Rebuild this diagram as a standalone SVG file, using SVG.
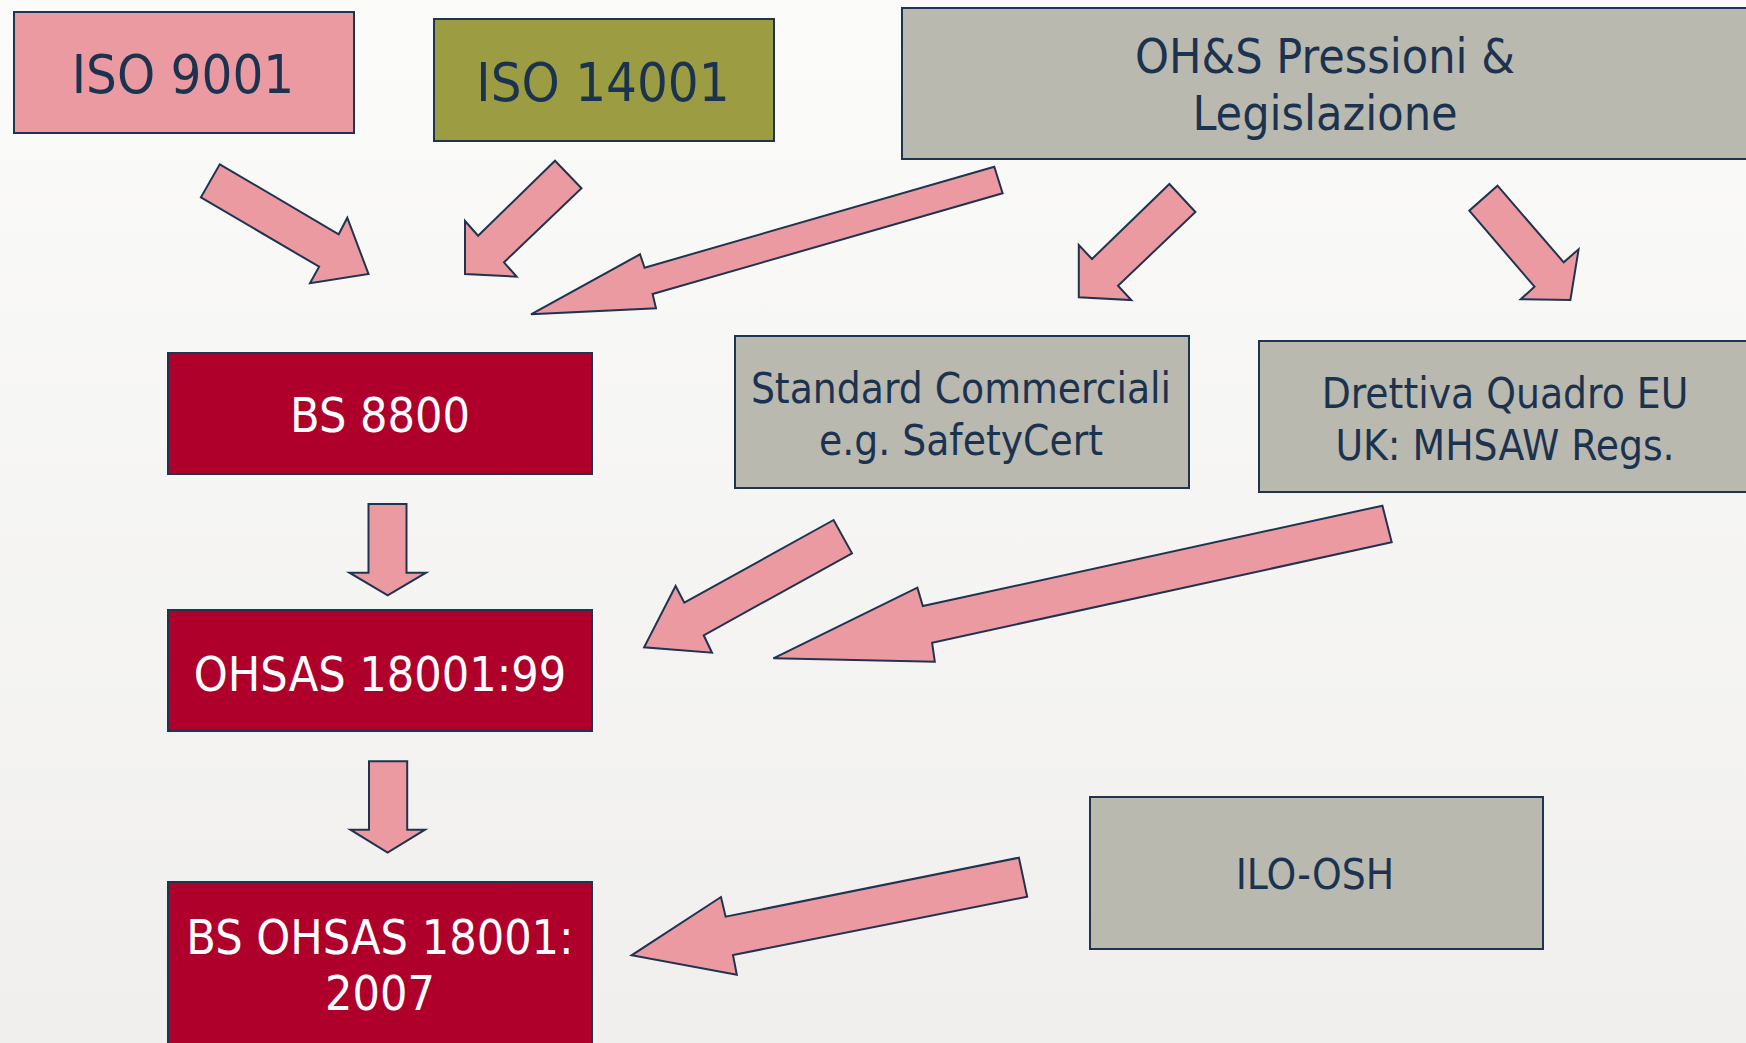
<svg xmlns="http://www.w3.org/2000/svg" width="1746" height="1043" viewBox="0 0 1746 1043">
  <defs>
    <linearGradient id="bg" x1="0" y1="0" x2="0" y2="1">
      <stop offset="0" stop-color="#FBFBFA"/>
      <stop offset="1" stop-color="#F0EFED"/>
    </linearGradient>
    <style>
      .box { stroke: #1F3450; stroke-width: 2; }
      .pink { fill: #EC9AA2; }
      .olive { fill: #9C9D42; }
      .gray { fill: #BAB9B0; }
      .red { fill: #AF002C; }
      .arrow { fill: #EC9AA2; stroke: #1F3450; stroke-width: 2; stroke-linejoin: miter; }
      text { font-family: "DejaVu Sans Condensed", "DejaVu Sans", sans-serif; text-anchor: middle; }
      .dark { fill: #1C3350; }
      .light { fill: #FFFFFF; }
      .t54 { font-size: 54px; }
      .t48 { font-size: 48px; }
      .t42 { font-size: 42px; }
    </style>
  </defs>
  <rect x="0" y="0" width="1746" height="1043" fill="url(#bg)"/>

  <g id="iso9001">
    <rect class="box pink" x="14" y="12" width="340" height="121"/>
    <text class="dark t54" x="183" y="93">ISO 9001</text>
  </g>
  <g id="iso14001">
    <rect class="box olive" x="434" y="19" width="340" height="122"/>
    <text class="dark t54" x="603" y="101">ISO 14001</text>
  </g>
  <g id="ohs">
    <rect class="box gray" x="902" y="8" width="860" height="151"/>
    <text class="dark t48" x="1325" y="73">OH&amp;S Pressioni &amp;</text>
    <text class="dark t48" x="1325" y="130">Legislazione</text>
  </g>
  <g id="bs8800">
    <rect class="box red" x="168" y="353" width="424" height="121"/>
    <text class="light t48" x="380" y="432">BS 8800</text>
  </g>
  <g id="standard">
    <rect class="box gray" x="735" y="336" width="454" height="152"/>
    <text class="dark t42" x="961" y="403">Standard Commerciali</text>
    <text class="dark t42" x="961" y="455">e.g. SafetyCert</text>
  </g>
  <g id="direttiva">
    <rect class="box gray" x="1259" y="341" width="500" height="151"/>
    <text class="dark t42" x="1505" y="408">Drettiva Quadro EU</text>
    <text class="dark t42" x="1505" y="460">UK: MHSAW Regs.</text>
  </g>
  <g id="ohsas99">
    <rect class="box red" x="168" y="610" width="424" height="121"/>
    <text class="light t48" x="380" y="691">OHSAS 18001:99</text>
  </g>
  <g id="ilo">
    <rect class="box gray" x="1090" y="797" width="453" height="152"/>
    <text class="dark t42" x="1315" y="889">ILO-OSH</text>
  </g>
  <g id="bsohsas2007">
    <rect class="box red" x="168" y="882" width="424" height="180"/>
    <text class="light t48" x="380" y="954">BS OHSAS 18001:</text>
    <text class="light t48" x="380" y="1010">2007</text>
  </g>

  <g id="connectors">
    <polygon class="arrow" points="219.8,164.3 338.7,234.3 347.3,217.7 368.5,274 310,283.3 319.1,266.7 200.9,197.3"/>
    <polygon class="arrow" points="555,160.7 581.5,188.3 504,262.3 516.6,276.7 465,274 465,221 478.1,235.7"/>
    <polygon class="arrow" points="994.3,166.7 644.6,267.7 640,254.3 531,314.3 656,308.3 652.6,294 1002.6,193.3"/>
    <polygon class="arrow" points="1169.4,184 1195.4,212 1118,285.7 1131.3,300 1078.8,297.3 1078.8,245 1092,259"/>
    <polygon class="arrow" points="1497.5,185.7 1563.7,262.3 1578.6,249.3 1570.4,300 1520.7,299.3 1534.5,286.7 1469.3,210.7"/>
    <polygon class="arrow" points="368.5,504 406.5,504 406.5,572.7 426,572.7 387.7,595.3 349.4,572.7 368.5,572.7"/>
    <polygon class="arrow" points="369,761.3 407.2,761.3 407.2,829.7 425,829.7 387.6,852.7 350.4,829.7 369,829.7"/>
    <polygon class="arrow" points="833.6,520 684.3,602.7 675.6,586 644.1,647.3 712,652.7 703.7,635.3 852,553.3"/>
    <polygon class="arrow" points="1382.4,505.7 922.8,606 917.4,587.7 773.4,658.3 934.8,661.7 932.1,642.7 1391.7,542.3"/>
    <polygon class="arrow" points="1018.9,857.7 725.6,916.7 721,897 631.6,955.3 736.8,974.7 733,955 1027.2,896.7"/>
  </g>
</svg>
